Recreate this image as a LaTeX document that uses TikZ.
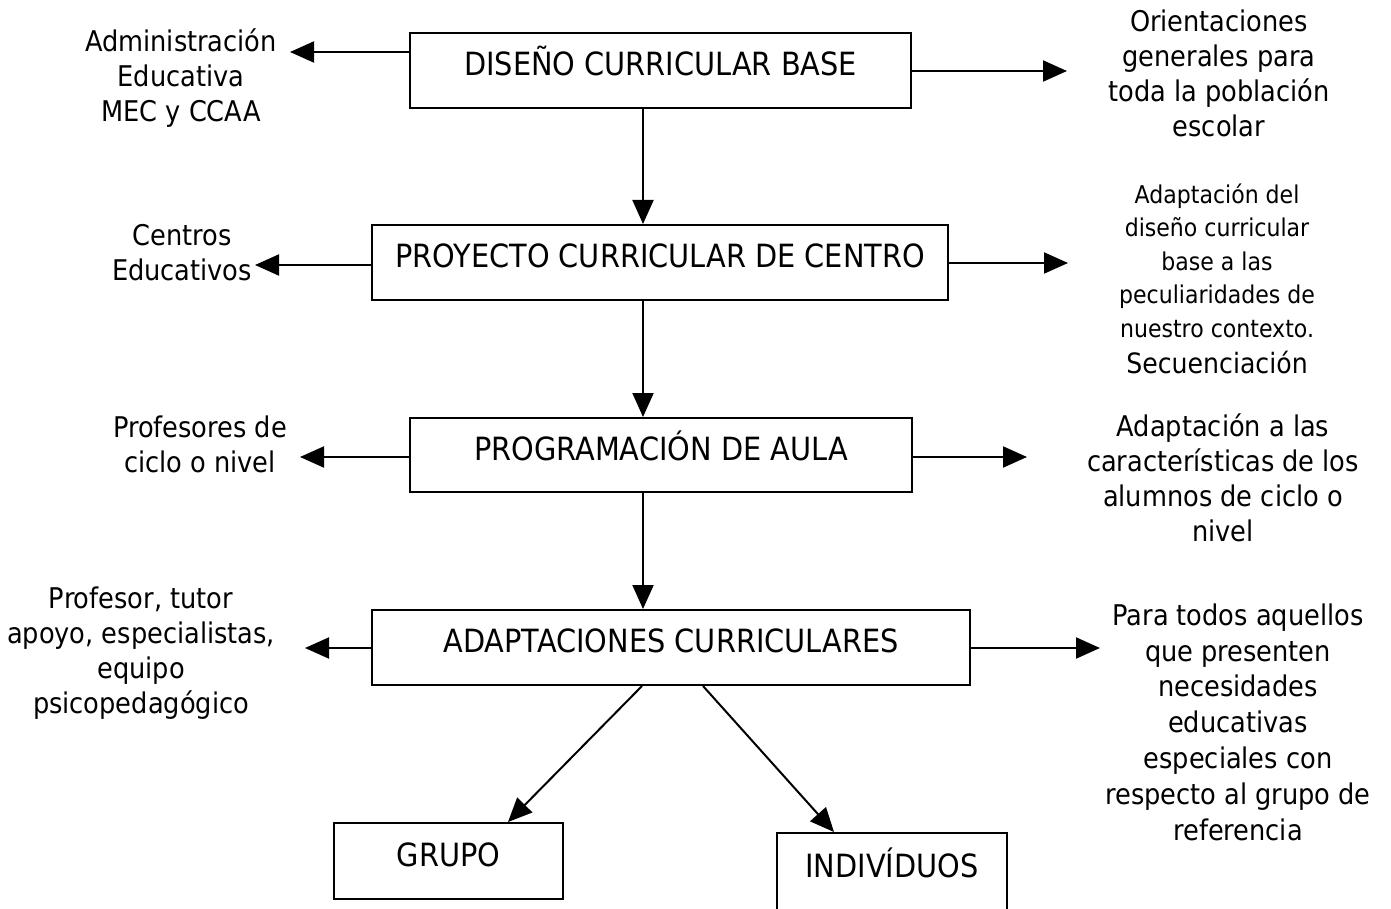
\documentclass[tikz,border=0pt]{standalone}
\usepackage{fontspec}
\setmainfont[FakeStretch=0.9]{DejaVu Sans}
\usetikzlibrary{arrows.meta}
\begin{document}
\begin{tikzpicture}[x=1pt,y=-1pt,
  box/.style={draw, line width=2pt, inner sep=0pt,
    font=\fontsize{32}{38}\selectfont, text height=24pt, text depth=14pt},
  side/.style={align=center, inner sep=0pt, anchor=base,
    font=\fontsize{28.5}{35}\selectfont},
  small/.style={align=center, inner sep=0pt, anchor=base,
    font=\fontsize{24.5}{33.5}\selectfont},
  arr/.style={line width=2pt, -{Triangle[length=24pt,width=21pt]}}
]
\useasboundingbox (0,0) rectangle (1391,909);
\clip (0,0) rectangle (1391,909);

% main column of boxes
\node[box, minimum width=501pt, minimum height=75pt] (b1) at (660.5,70.5) {DISEÑO CURRICULAR BASE};
\node[box, minimum width=576pt, minimum height=75pt] (b2) at (660,262.5) {PROYECTO CURRICULAR DE CENTRO};
\node[box, minimum width=502pt, minimum height=74pt] (b3) at (661,455) {PROGRAMACIÓN DE AULA};
\node[box, minimum width=598pt, minimum height=75pt] (b4) at (671,647.5) {ADAPTACIONES CURRICULARES};
\node[box, minimum width=229pt, minimum height=76pt] (b5) at (448.5,861) {GRUPO};
\node[box, minimum width=230pt, minimum height=78pt] (b6) at (892,872) {INDIVÍDUOS};

% texts on the left (placed by the baseline of their last line)
\node[side] (tl1) at (181,122) {Administración\\Educativa\\MEC y CCAA};
\node[side] (tl2) at (182,280) {Centros\\Educativos};
\node[side] (tl3) at (200,472) {Profesores de\\ciclo o nivel};
\node[side, font=\fontsize{28.5}{34.7}\selectfont] (tl4) at (141,713) {Profesor, tutor\\apoyo, especialistas,\\equipo\\psicopedagógico};

% texts on the right
\node[side] (tr1) at (1219,137) {Orientaciones\\generales para\\toda la población\\escolar};
\node[small] (tr2) at (1217,373) {Adaptación del\\diseño curricular\\base a las\\peculiaridades de\\nuestro contexto.\\[2.5pt]{\fontsize{28}{35}\selectfont Secuenciación}};
\node[side, font=\fontsize{28.5}{34.7}\selectfont] (tr3) at (1223,541) {Adaptación a las\\características de los\\alumnos de ciclo o\\nivel};
\node[side, font=\fontsize{28.5}{35.8}\selectfont] (tr4) at (1238,840) {Para todos aquellos\\que presenten\\necesidades\\educativas\\especiales con\\respecto al grupo de\\referencia};

% vertical connectors
\coordinate (ax) at (643,0);
\draw[arr] (b1.south -| ax) -- (b2.north -| ax);
\draw[arr] (b2.south -| ax) -- (b3.north -| ax);
\draw[arr] (b3.south -| ax) -- (b4.north -| ax);

% side connectors
\coordinate (l1) at (290,52);
\coordinate (r1) at (1067,71);
\coordinate (l2) at (255,265);
\coordinate (r2) at (1068,263);
\coordinate (l3) at (300,457);
\coordinate (r3) at (1027,457);
\coordinate (l4) at (305,648);
\coordinate (r4) at (1100,648);
\draw[arr] (b1.west |- l1) -- (l1);
\draw[arr] (b1.east |- r1) -- (r1);
\draw[arr] (b2.west |- l2) -- (l2);
\draw[arr] (b2.east |- r2) -- (r2);
\draw[arr] (b3.west |- l3) -- (l3);
\draw[arr] (b3.east |- r3) -- (r3);
\draw[arr] (b4.west |- l4) -- (l4);
\draw[arr] (b4.east |- r4) -- (r4);

% branches to the two kinds of adaptation
\draw[arr] ([xshift=-29pt]b4.south) -- ([xshift=59.5pt]b5.north);
\draw[arr] ([xshift=32pt]b4.south) -- ([xshift=-58pt]b6.north);
\end{tikzpicture}
\end{document}
